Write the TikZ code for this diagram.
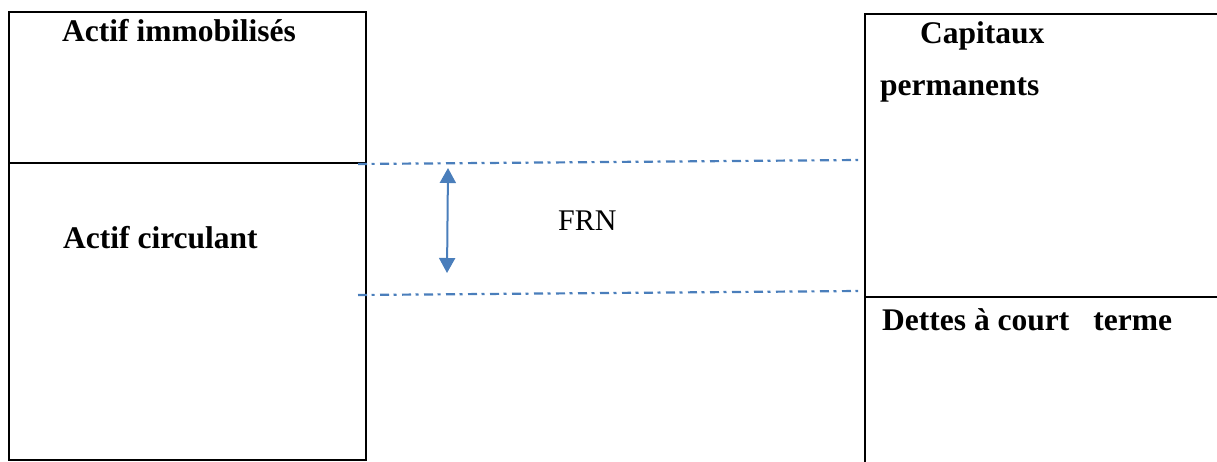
\documentclass[tikz,border=0pt]{standalone}
\usepackage{fontspec}
\setmainfont{Liberation Serif}
\usetikzlibrary{arrows.meta}
\definecolor{frnblue}{HTML}{4A7EBB}
\tikzset{
  boxline/.style={draw=black, line width=2pt},
  lbl/.style={anchor=base west, inner sep=0pt, font=\fontsize{31.5}{38}\selectfont\bfseries},
  frnlbl/.style={anchor=base west, inner sep=0pt, font=\fontsize{30}{36}\selectfont},
  dashdotline/.style={draw=frnblue, line width=2.2pt, dash pattern=on 9pt off 4.5pt on 3pt off 5.5pt},
  frnarrow/.style={draw=frnblue, line width=2pt, {Triangle[width=16pt,length=15pt]}-{Triangle[width=16pt,length=15pt]}}
}
\begin{document}
\begin{tikzpicture}[x=1pt,y=-1pt]
\useasboundingbox (0,0) rectangle (1217,461);
% left box
\draw[boxline] (9,12) rectangle (366,460);
\draw[boxline] (9,163) -- (366,163);
% right box
\draw[boxline] (1218,14) -- (865,14) -- (865,462);
\draw[boxline] (865,297) -- (1218,297);
% dash-dot lines
\coordinate (t1) at (358,164);
\coordinate (t2) at (858,160);
\coordinate (b1) at (358,295);
\coordinate (b2) at (858,291);
\draw[dashdotline] (t1) -- (t2);
\draw[dashdotline] (b1) -- (b2);
% arrow
\coordinate (atop) at (448,168);
\coordinate (abot) at (447,273);
\draw[frnarrow] (atop) -- (abot);
% labels
\node[lbl] (ai) at (62,41) {Actif immobilisés};
\node[lbl] (ac) at (63,248) {Actif circulant};
\node[lbl] (cap) at (920,43) {Capitaux};
\node[lbl] (perm) at (880,95) {permanents};
\node[lbl] (dct) at (882,330) {Dettes à court\hspace{24pt}terme};
\node[frnlbl] (frn) at (558,230) {FRN};
\end{tikzpicture}
\end{document}
